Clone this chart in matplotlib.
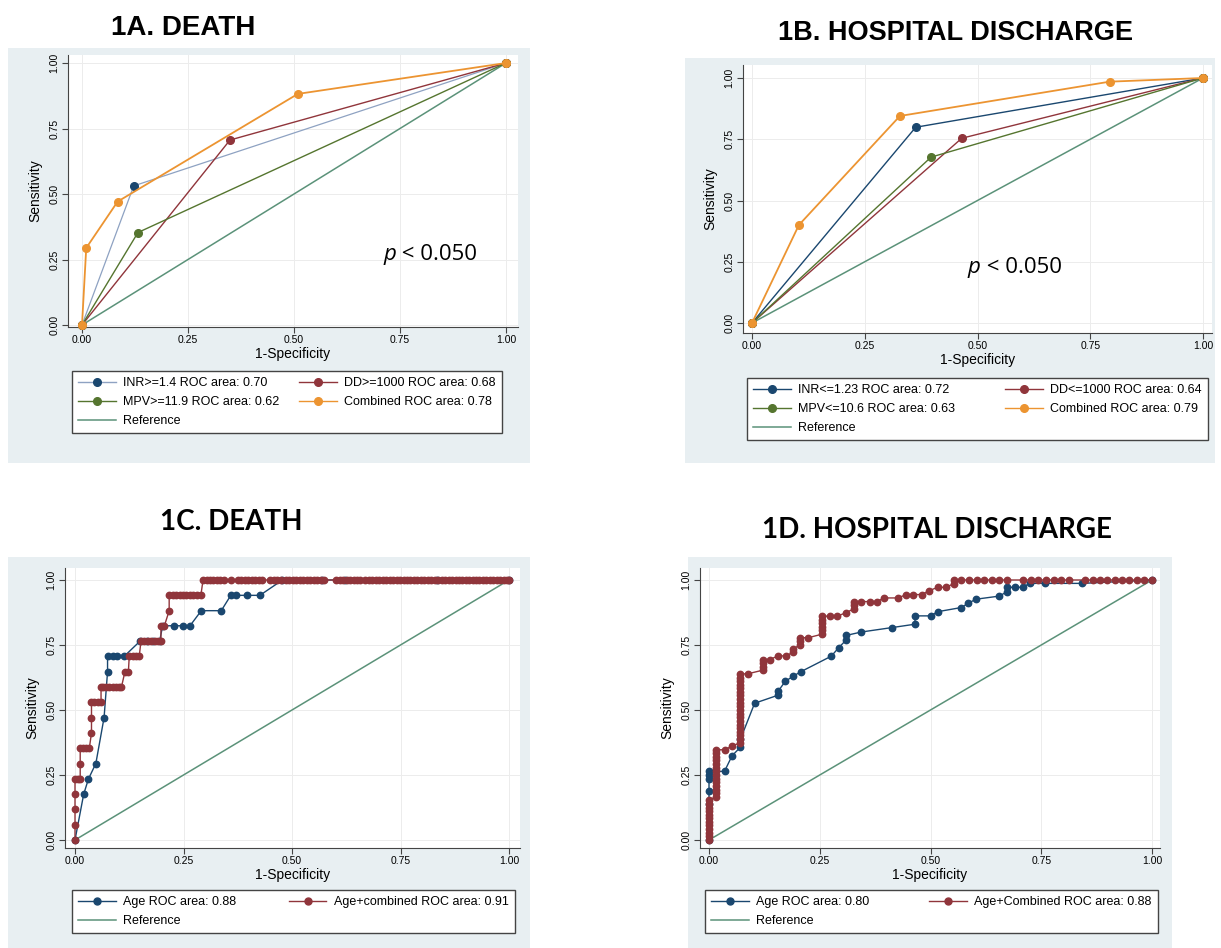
import matplotlib
matplotlib.use("Agg")
import matplotlib.pyplot as plt
from matplotlib.lines import Line2D
from matplotlib.patches import Rectangle

plt.rcParams['font.family'] = ['Liberation Sans', 'DejaVu Sans']

W, H = 1221, 948

# colours (Stata s2color look)
NAVY = '#1a476f'
MAROON = '#90353b'
GREEN = '#55752f'
ORANGE = '#ec9431'
REF = '#5b9279'
BG = '#e8eff2'

tick_vals = [0, 0.25, 0.5, 0.75, 1.0]
tick_labels = ['0.00', '0.25', '0.50', '0.75', '1.00']
ref_x = [0, 1]
ref_y = [0, 1]

# 1A. Death - single cut-offs
a_inr_fpr = [0, 0.122, 1]
a_inr_tpr = [0, 0.531, 1]
a_dd_fpr = [0, 0.349, 1]
a_dd_tpr = [0, 0.706, 1]
a_mpv_fpr = [0, 0.132, 1]
a_mpv_tpr = [0, 0.353, 1]
a_comb_fpr = [0, 0.010, 0.084, 0.509, 1]
a_comb_tpr = [0, 0.294, 0.471, 0.882, 1]
a_labels = ['INR>=1.4 ROC area: 0.70', 'DD>=1000 ROC area: 0.68',
            'MPV>=11.9 ROC area: 0.62', 'Combined ROC area: 0.78', 'Reference']

# 1B. Hospital discharge - single cut-offs
b_inr_fpr = [0, 0.363, 1]
b_inr_tpr = [0, 0.799, 1]
b_dd_fpr = [0, 0.465, 1]
b_dd_tpr = [0, 0.754, 1]
b_mpv_fpr = [0, 0.397, 1]
b_mpv_tpr = [0, 0.677, 1]
b_comb_fpr = [0, 0.104, 0.328, 0.793, 1]
b_comb_tpr = [0, 0.400, 0.845, 0.985, 1]
b_labels = ['INR<=1.23 ROC area: 0.72', 'DD<=1000 ROC area: 0.64',
            'MPV<=10.6 ROC area: 0.63', 'Combined ROC area: 0.79', 'Reference']

# 1C. Death - age vs age + combined (1-specificity, sensitivity)
c_age_pts = [(0, 0), (0.02, 0.176), (0.031, 0.235), (0.048, 0.294), (0.067, 0.471),
             (0.075, 0.647), (0.075, 0.706), (0.087, 0.706), (0.097, 0.706), (0.113, 0.706),
             (0.15, 0.765), (0.165, 0.765), (0.18, 0.765), (0.195, 0.765), (0.202, 0.824),
             (0.227, 0.824), (0.248, 0.824), (0.265, 0.824), (0.291, 0.882), (0.337, 0.882),
             (0.359, 0.941), (0.371, 0.941), (0.397, 0.941), (0.426, 0.941), (0.478, 1),
             (0.57, 1), (0.622, 1), (0.835, 1), (1, 1)]
c_comb_pts = [(0, 0), (0, 0.059), (0, 0.118), (0, 0.176), (0, 0.235), (0.006, 0.235),
              (0.012, 0.235), (0.012, 0.294), (0.012, 0.353), (0.018, 0.353), (0.025, 0.353),
              (0.033, 0.353), (0.038, 0.412), (0.038, 0.471), (0.038, 0.529), (0.044, 0.529),
              (0.052, 0.529), (0.06, 0.529), (0.06, 0.588), (0.064, 0.588), (0.071, 0.588),
              (0.079, 0.588), (0.087, 0.588), (0.094, 0.588), (0.102, 0.588), (0.107, 0.588),
              (0.115, 0.647), (0.123, 0.647), (0.125, 0.706), (0.133, 0.706), (0.14, 0.706),
              (0.148, 0.706), (0.152, 0.765), (0.16, 0.765), (0.168, 0.765), (0.176, 0.765),
              (0.184, 0.765), (0.191, 0.765), (0.198, 0.765), (0.198, 0.824), (0.206, 0.824),
              (0.217, 0.882), (0.217, 0.941), (0.225, 0.941), (0.233, 0.941), (0.241, 0.941),
              (0.249, 0.941), (0.256, 0.941), (0.264, 0.941), (0.272, 0.941), (0.28, 0.941),
              (0.29, 0.941), (0.295, 1)]
# points of age + combined lying on sensitivity = 1.00
c_comb_top = [0.303, 0.311, 0.319, 0.327, 0.335, 0.343, 0.359, 0.375, 0.383, 0.391,
              0.399, 0.407, 0.415, 0.423, 0.430, 0.450, 0.458, 0.466, 0.474, 0.486,
              0.494, 0.502, 0.510, 0.518, 0.526, 0.534, 0.542, 0.550, 0.558, 0.566,
              0.574, 0.602, 0.610, 0.618, 0.626, 0.634, 0.642, 0.650, 0.657, 0.669,
              0.677, 0.685, 0.693, 0.701, 0.709, 0.717, 0.725, 0.733, 0.741, 0.749,
              0.757, 0.765, 0.773, 0.781, 0.789, 0.797, 0.805, 0.813, 0.821, 0.829,
              0.837, 0.845, 0.853, 0.861, 0.869, 0.877, 0.884, 0.892, 0.900, 0.908,
              0.916, 0.924, 0.932, 0.940, 0.948, 0.956, 0.964, 0.972, 0.980, 0.988,
              0.996, 1.0]
c_labels = ['Age ROC area: 0.88', 'Age+combined ROC area: 0.91', 'Reference']

# 1D. Hospital discharge - age vs age + combined
d_age_pts = [(0, 0), (0, 0.139), (0, 0.188), (0, 0.236), (0, 0.25), (0, 0.264),
             (0.035, 0.264), (0.052, 0.324), (0.071, 0.357), (0.071, 0.388), (0.103, 0.526),
             (0.156, 0.557), (0.156, 0.572), (0.172, 0.61), (0.19, 0.63), (0.207, 0.647),
             (0.276, 0.707), (0.293, 0.74), (0.31, 0.77), (0.31, 0.787), (0.344, 0.80),
             (0.413, 0.817), (0.465, 0.83), (0.465, 0.862), (0.5, 0.862), (0.516, 0.878),
             (0.569, 0.894), (0.585, 0.91), (0.602, 0.926), (0.655, 0.938), (0.673, 0.955),
             (0.673, 0.972), (0.69, 0.972), (0.708, 0.972), (0.724, 0.987), (0.758, 0.987),
             (0.843, 0.987), (1, 1)]
d_comb_pts = [(0, 0), (0, 0.014), (0, 0.028), (0, 0.042), (0, 0.056), (0, 0.069),
              (0, 0.083), (0, 0.097), (0, 0.111), (0, 0.125), (0, 0.139), (0, 0.153),
              (0.016, 0.167), (0.016, 0.181), (0.016, 0.194), (0.016, 0.208), (0.016, 0.222),
              (0.016, 0.236), (0.016, 0.25), (0.016, 0.264), (0.016, 0.278), (0.016, 0.292),
              (0.016, 0.306), (0.016, 0.319), (0.016, 0.333), (0.016, 0.347), (0.035, 0.347),
              (0.052, 0.361), (0.071, 0.375), (0.071, 0.389), (0.071, 0.403), (0.071, 0.417),
              (0.071, 0.431), (0.071, 0.444), (0.071, 0.458), (0.071, 0.472), (0.071, 0.486),
              (0.071, 0.5), (0.071, 0.514), (0.071, 0.528), (0.071, 0.542), (0.071, 0.556),
              (0.071, 0.569), (0.071, 0.583), (0.071, 0.597), (0.071, 0.611), (0.071, 0.625),
              (0.071, 0.639), (0.087, 0.639), (0.121, 0.653), (0.121, 0.667), (0.121, 0.681),
              (0.121, 0.694), (0.137, 0.694), (0.156, 0.708), (0.173, 0.708), (0.19, 0.722),
              (0.19, 0.736), (0.206, 0.75), (0.206, 0.764), (0.206, 0.778), (0.224, 0.778),
              (0.256, 0.792), (0.256, 0.806), (0.256, 0.819), (0.256, 0.833), (0.256, 0.847),
              (0.256, 0.861), (0.274, 0.861), (0.29, 0.861), (0.31, 0.875), (0.327, 0.889),
              (0.327, 0.903), (0.327, 0.917), (0.343, 0.917), (0.363, 0.917), (0.379, 0.917),
              (0.395, 0.931), (0.427, 0.931), (0.445, 0.944), (0.461, 0.944), (0.48, 0.944),
              (0.496, 0.958), (0.516, 0.972), (0.536, 0.972), (0.552, 0.986), (0.552, 1)]
d_comb_top = [0.568, 0.587, 0.604, 0.621, 0.639, 0.655, 0.672, 0.708, 0.726, 0.742,
              0.761, 0.778, 0.795, 0.813, 0.848, 0.866, 0.883, 0.899, 0.917, 0.933,
              0.949, 0.966, 0.983, 1.0]
d_labels = ['Age ROC area: 0.80', 'Age+Combined ROC area: 0.88', 'Reference']


fig = plt.figure(figsize=(W / 100, H / 100), dpi=100)


def add_bg(l, t, r, b):
    fig.patches.append(Rectangle((l / W, 1 - b / H), (r - l) / W, (b - t) / H,
                                 transform=fig.transFigure, facecolor=BG,
                                 edgecolor='none', zorder=-10))


def add_plot(box, x01, y01):
    # box = plot region in pixels, x01 / y01 = pixel position of data 0 and 1
    l, t, r, b = box
    ax = fig.add_axes([l / W, 1 - b / H, (r - l) / W, (b - t) / H])
    sx = x01[1] - x01[0]
    sy = y01[0] - y01[1]
    ax.set_xlim((l - x01[0]) / sx, (r - x01[0]) / sx)
    ax.set_ylim((y01[0] - b) / sy, (y01[0] - t) / sy)
    ax.set_xticks(tick_vals)
    ax.set_xticklabels(tick_labels)
    ax.set_yticks(tick_vals)
    ax.set_yticklabels(tick_labels, rotation=90, va='center')
    ax.tick_params(labelsize=7.5, length=4, width=0.8, color='#444', pad=2)
    ax.grid(color='#ececec', lw=0.7)
    ax.set_axisbelow(True)
    for s in ['top', 'right']:
        ax.spines[s].set_visible(False)
    for s in ['left', 'bottom']:
        ax.spines[s].set_color('#444')
        ax.spines[s].set_linewidth(0.8)
    ax.set_xlabel('1-Specificity', fontsize=10, labelpad=1)
    ax.set_ylabel('Sensitivity', fontsize=10, labelpad=5)
    ax.plot(ref_x, ref_y, color=REF, lw=1.1, zorder=2)
    return ax


def curve(ax, x, y, color, ms, lw=1.0, line_color=None, z=3):
    ax.plot(x, y, color=line_color or color, lw=lw, marker='o', ms=ms,
            mfc=color, mec=color, clip_on=False, zorder=z)


def handle(color, ms, line_color=None, marker='o'):
    return Line2D([], [], color=line_color or color, lw=1.0, marker=marker, ms=ms,
                  mfc=color, mec=color)


def add_legend(handles, labels, box, fs):
    l, t, r, b = box
    leg = fig.legend(handles, labels, loc='upper left',
                     bbox_to_anchor=(l / W, 1 - b / H, (r - l) / W, (b - t) / H),
                     mode='expand', ncol=2, fontsize=fs, frameon=True, fancybox=False,
                     framealpha=1, borderaxespad=0, handlelength=3.0, handletextpad=0.6,
                     labelspacing=0.55, borderpad=0.5, columnspacing=1.0, numpoints=1)
    leg.get_frame().set_edgecolor('#444')
    leg.get_frame().set_linewidth(1.0)
    leg.get_frame().set_facecolor('white')


def p_value(ax, x, y):
    ax.text(x, y, 'p', transform=ax.transAxes, fontsize=16, style='italic',
            family=['Open Sans', 'DejaVu Sans'], ha='right', va='center')
    ax.text(x, y, ' < 0.050', transform=ax.transAxes, fontsize=16,
            family=['Open Sans', 'DejaVu Sans'], ha='left', va='center')


bold_a = ['Liberation Sans', 'DejaVu Sans']
calibri = ['Lato', 'DejaVu Sans']

# ---------------- 1A ----------------
add_bg(8, 48, 530, 463)
fig.text(183 / W, 1 - 28 / H, '1A. DEATH', fontsize=20, fontweight='bold',
         family=bold_a, ha='center', va='center')
ax = add_plot((68, 55, 518, 327), (82, 506), (325, 63))
curve(ax, a_inr_fpr, a_inr_tpr, NAVY, 5.5, lw=0.9, line_color='#8ea2c2')
curve(ax, a_dd_fpr, a_dd_tpr, MAROON, 5.5)
curve(ax, a_mpv_fpr, a_mpv_tpr, GREEN, 5.5)
curve(ax, a_comb_fpr, a_comb_tpr, ORANGE, 5.5, lw=1.3)
p_value(ax, 0.73, 0.265)
h = [handle(NAVY, 5.5, '#8ea2c2'), handle(MAROON, 5.5), handle(GREEN, 5.5), handle(ORANGE, 5.5),
     Line2D([], [], color=REF, lw=1.1)]
order = [0, 2, 4, 1, 3]
add_legend([h[i] for i in order], [a_labels[i] for i in order], (72, 371, 502, 440), 9)

# ---------------- 1B ----------------
add_bg(685, 58, 1215, 463)
fig.text(955 / W, 1 - 33 / H, '1B. HOSPITAL DISCHARGE', fontsize=19.5, fontweight='bold',
         family=bold_a, ha='center', va='center')
ax = add_plot((743, 65, 1212, 333), (752, 1203), (323, 78))
curve(ax, b_inr_fpr, b_inr_tpr, NAVY, 5.5)
curve(ax, b_dd_fpr, b_dd_tpr, MAROON, 5.5)
curve(ax, b_mpv_fpr, b_mpv_tpr, GREEN, 5.5)
curve(ax, b_comb_fpr, b_comb_tpr, ORANGE, 5.5, lw=1.3)
p_value(ax, 0.507, 0.245)
h = [handle(NAVY, 5.5), handle(MAROON, 5.5), handle(GREEN, 5.5), handle(ORANGE, 5.5),
     Line2D([], [], color=REF, lw=1.1)]
add_legend([h[i] for i in order], [b_labels[i] for i in order], (747, 378, 1208, 445), 9)

# ---------------- 1C ----------------
add_bg(8, 557, 530, 948)
fig.text(231 / W, 1 - 522 / H, '1C. DEATH', fontsize=20, fontweight='bold',
         family=calibri, ha='center', va='center')
ax = add_plot((65, 568, 520, 848), (75, 509), (840, 580))
cx, cy = zip(*c_age_pts)
curve(ax, cx, cy, NAVY, 4.6)
cx, cy = zip(*c_comb_pts)
cx = list(cx) + c_comb_top
cy = list(cy) + [1.0] * len(c_comb_top)
curve(ax, cx, cy, MAROON, 4.6, z=4)
h = [handle(NAVY, 5), handle(MAROON, 5), Line2D([], [], color=REF, lw=1.1)]
order3 = [0, 2, 1]
add_legend([h[i] for i in order3], [c_labels[i] for i in order3], (72, 890, 515, 935), 9)

# ---------------- 1D ----------------
add_bg(688, 557, 1172, 948)
fig.text(937 / W, 1 - 530 / H, '1D. HOSPITAL DISCHARGE', fontsize=20, fontweight='bold',
         family=calibri, ha='center', va='center')
ax = add_plot((700, 568, 1160, 848), (709, 1152), (840, 580))
dx, dy = zip(*d_age_pts)
curve(ax, dx, dy, NAVY, 4.6)
dx, dy = zip(*d_comb_pts)
dx = list(dx) + d_comb_top
dy = list(dy) + [1.0] * len(d_comb_top)
curve(ax, dx, dy, MAROON, 4.6, z=4)
add_legend([h[i] for i in order3], [d_labels[i] for i in order3], (705, 890, 1158, 935), 9)

fig.savefig('out.png', dpi=100)
